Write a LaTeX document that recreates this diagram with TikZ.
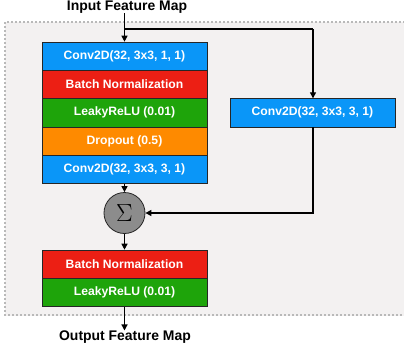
\documentclass[tikz,border=0pt]{standalone}
\usepackage{fontspec}
\setmainfont{Liberation Sans}
\usetikzlibrary{arrows.meta}
\definecolor{cblue}{HTML}{0A96F8}
\definecolor{cred}{HTML}{EC1F14}
\definecolor{cgreen}{HTML}{1EA40A}
\definecolor{corange}{HTML}{FE8A00}
\definecolor{panel}{HTML}{F3F1F1}
\definecolor{sumgray}{HTML}{8C8C8C}
\tikzset{
  layer/.style={draw=black!85, line width=0.7bp, minimum width=165bp, minimum height=28.3bp,
    inner sep=0pt, text=white, font=\fontsize{12.2}{14}\selectfont\bfseries},
  label/.style={font=\fontsize{14}{16}\selectfont\bfseries, text=black, inner sep=0pt},
  flow/.style={draw=black, line width=1.2bp, -{Triangle[length=6bp,width=6bp]}},
}
\begin{document}
\begin{tikzpicture}[x=1bp,y=-1bp]
\useasboundingbox (0,0) rectangle (404,347);
\fill[white] (0,0) rectangle (404,347);
% background panel with dotted frame
\begin{scope}
\clip (0,0) rectangle (404,347);
\draw[panel, fill=panel] (5,22) rectangle (420,315);
\draw[gray!55, line width=1.6bp, dash pattern=on 1.6bp off 2.4bp] (5,22) rectangle (420,315);
\end{scope}

% main branch
\node[layer, fill=cblue]   (c1) at (124.5,56.2)  {Conv2D(32, 3x3, 1, 1)};
\node[layer, fill=cred]    (b1) at (124.5,84.5)  {Batch Normalization};
\node[layer, fill=cgreen]  (l1) at (124.5,112.8) {LeakyReLU (0.01)};
\node[layer, fill=corange] (d1) at (124.5,141.1) {Dropout (0.5)};
\node[layer, fill=cblue]   (c2) at (124.5,169.4) {Conv2D(32, 3x3, 3, 1)};

% shortcut branch
\node[layer, fill=cblue]   (cs) at (312.5,112.8) {Conv2D(32, 3x3, 3, 1)};

% summation
\node[circle, draw=black!85, line width=0.8bp, fill=sumgray, minimum size=41bp, inner sep=0pt]
  (sum) at (124.5,213) {\fontsize{27}{27}\selectfont$\Sigma$};

% output layers
\node[layer, fill=cred]    (b2) at (124.5,264.2) {Batch Normalization};
\node[layer, fill=cgreen]  (l2) at (124.5,292.5) {LeakyReLU (0.01)};

% labels
\node[label] (in)  at (127,7)   {Input Feature Map};
\node[label] (out) at (125,337) {Output Feature Map};
\coordinate (split) at (124.5,29);
\coordinate (turn) at (313,29);

% connectors
\draw[flow] (in.south -| c1.north) -- (c1.north);
\draw[line width=1.2bp] (split) -- (turn);
\draw[flow] (turn) -- (cs.north -| turn);
\draw[flow] (cs.south -| turn) |- (sum.east);
\draw[flow] (c2.south) -- (sum.north);
\draw[flow] (sum.south) -- (b2.north);
\draw[flow] (l2.south) -- (out.north -| l2.south);
\end{tikzpicture}
\end{document}
